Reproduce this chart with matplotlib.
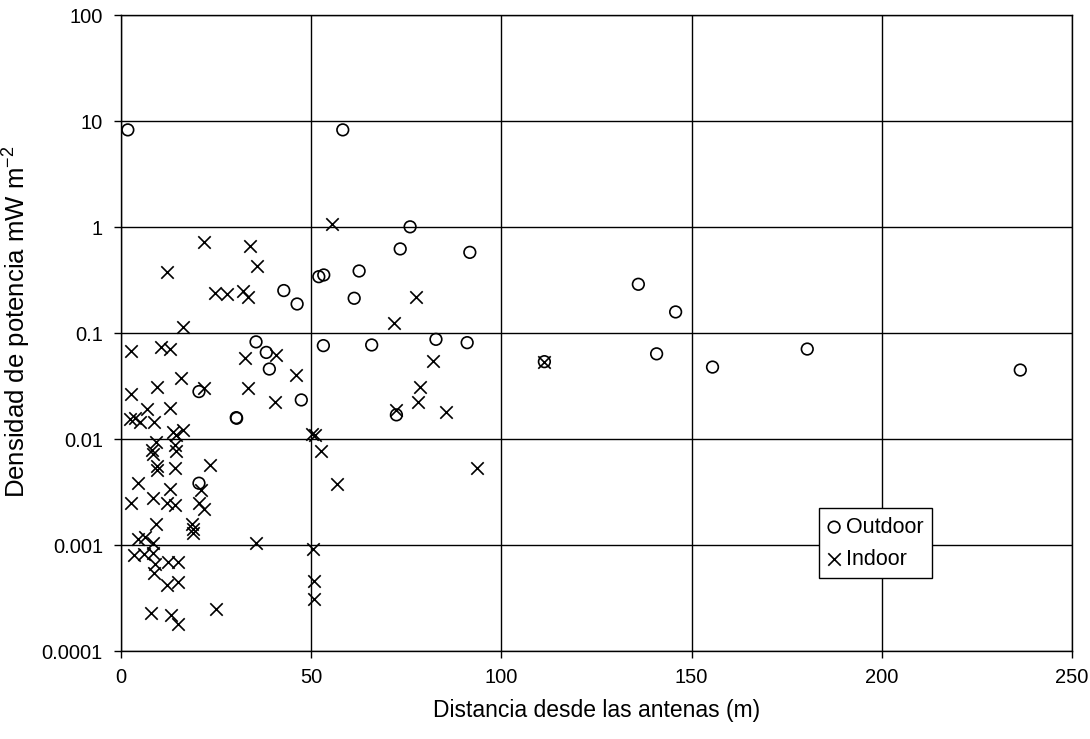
import matplotlib
matplotlib.use("Agg")
import matplotlib.pyplot as plt
from matplotlib.ticker import NullLocator

plt.rcParams['font.family'] = ['Liberation Sans', 'DejaVu Sans']

outdoor_x = [1.8, 58.3, 76.0, 73.4, 91.7, 52.0, 53.3, 62.6, 42.8, 46.3, 61.3,
             35.5, 38.2, 39.0, 53.2, 65.9, 82.8, 91.0, 20.5, 47.4, 30.3, 30.4,
             72.4, 20.5, 136.0, 145.8, 140.8, 155.5, 180.4, 236.4, 111.3]
outdoor_y = [8.3, 8.3, 1.01, 0.625, 0.58, 0.342, 0.355, 0.387, 0.253, 0.189, 0.214,
             0.083, 0.066, 0.046, 0.0765, 0.0776, 0.0877, 0.0816, 0.0282, 0.0235, 0.016, 0.0158,
             0.017, 0.00385, 0.29, 0.159, 0.064, 0.048, 0.071, 0.045, 0.054]

indoor_x = [55.5, 21.7, 34.0, 35.7, 12.1, 24.7, 27.8, 32.2, 33.5, 77.6, 71.7, 16.4,
            2.55, 10.5, 12.9, 32.7, 40.8, 45.9, 82.1, 111.3, 15.7, 9.4, 2.55, 21.9,
            33.3, 40.6, 78.7, 78.0, 72.4, 85.5, 6.8, 12.9, 2.3, 3.6, 5.0, 8.6,
            13.8, 14.4, 16.3, 50.9, 50.3, 52.6, 9.2, 8.1, 8.5, 14.2, 14.4, 9.4,
            9.4, 14.1, 23.3, 56.8, 93.7, 4.5, 12.9, 21.0, 2.6, 8.3, 12.1, 14.2,
            20.6, 21.9, 9.3, 18.7, 19.0, 18.9, 4.6, 6.3, 8.5, 35.6, 50.6, 3.5,
            6.0, 8.5, 9.0, 12.4, 15.1, 8.8, 12.2, 15.1, 50.7, 50.7, 7.8, 13.1,
            15.1, 25.0]
indoor_y = [1.075, 0.73, 0.667, 0.432, 0.376, 0.238, 0.235, 0.253, 0.219, 0.219, 0.124, 0.114,
            0.0686, 0.0748, 0.0706, 0.059, 0.0625, 0.0405, 0.0552, 0.054, 0.038, 0.031, 0.0265, 0.0303,
            0.0303, 0.0223, 0.031, 0.0223, 0.0189, 0.0182, 0.0194, 0.0198, 0.0157, 0.0158, 0.0145, 0.0147,
            0.0118, 0.0109, 0.0122, 0.011, 0.0113, 0.0078, 0.0095, 0.0079, 0.0072, 0.0088, 0.0078, 0.0056,
            0.0051, 0.0054, 0.0057, 0.0038, 0.0054, 0.0039, 0.0034, 0.0033, 0.0025, 0.0028, 0.0025, 0.0024,
            0.0025, 0.0022, 0.0016, 0.0016, 0.00143, 0.0013, 0.00115, 0.0012, 0.00105, 0.00104, 0.00092, 0.00081,
            0.00083, 0.00085, 0.00066, 0.00069, 0.00069, 0.00055, 0.00042, 0.00045, 0.00046, 0.00031, 0.00023, 0.00022,
            0.00018, 0.00025]

x_ticks = [0, 50, 100, 150, 200, 250]
y_ticks = [0.0001, 0.001, 0.01, 0.1, 1, 10, 100]
y_tick_labels = ['0.0001', '0.001', '0.01', '0.1', '1', '10', '100']

fig = plt.figure(figsize=(10.9, 7.39), dpi=100)
ax = fig.add_axes([0.111, 0.1187, 0.8725, 0.8606])

ax.scatter(outdoor_x, outdoor_y, marker='o', s=70, facecolors='none',
           edgecolors='black', linewidths=1.2, label='Outdoor', zorder=3)
ax.scatter(indoor_x, indoor_y, marker='x', s=80, color='black',
           linewidths=1.2, label='Indoor', zorder=3)

ax.set_yscale('log')
ax.set_xlim(0, 250)
ax.set_ylim(0.0001, 100)
ax.set_xticks(x_ticks)
ax.set_xticklabels([str(t) for t in x_ticks], fontsize=14.5)
ax.set_yticks(y_ticks)
ax.set_yticklabels(y_tick_labels, fontsize=14.5)
ax.yaxis.set_minor_locator(NullLocator())
ax.xaxis.set_minor_locator(NullLocator())

ax.grid(True, color='black', linewidth=1.0, zorder=0)
ax.set_axisbelow(True)
for sp in ax.spines.values():
    sp.set_color('black')
    sp.set_linewidth(1.0)
ax.tick_params(axis='both', direction='out', length=5, width=1.0, colors='black')
ax.tick_params(axis='y', pad=8)
ax.tick_params(axis='x', pad=7)

ax.set_xlabel('Distancia desde las antenas (m)', fontsize=16.5, labelpad=9)
ax.set_ylabel('Densidad de potencia mW m$^{\\mathregular{-2}}$', fontsize=18.5)
ax.yaxis.set_label_coords(-0.0936, 0.518)

leg = ax.legend(loc='lower left', bbox_to_anchor=(0.734, 0.115), borderaxespad=0,
                frameon=True, fancybox=False, edgecolor='black', framealpha=1,
                prop={'size': 15.5}, handlelength=0.6, handletextpad=0.25,
                borderpad=0.4, labelspacing=0.5, scatterpoints=1)
leg.get_frame().set_linewidth(1.0)

fig.savefig('out.png', dpi=100)
